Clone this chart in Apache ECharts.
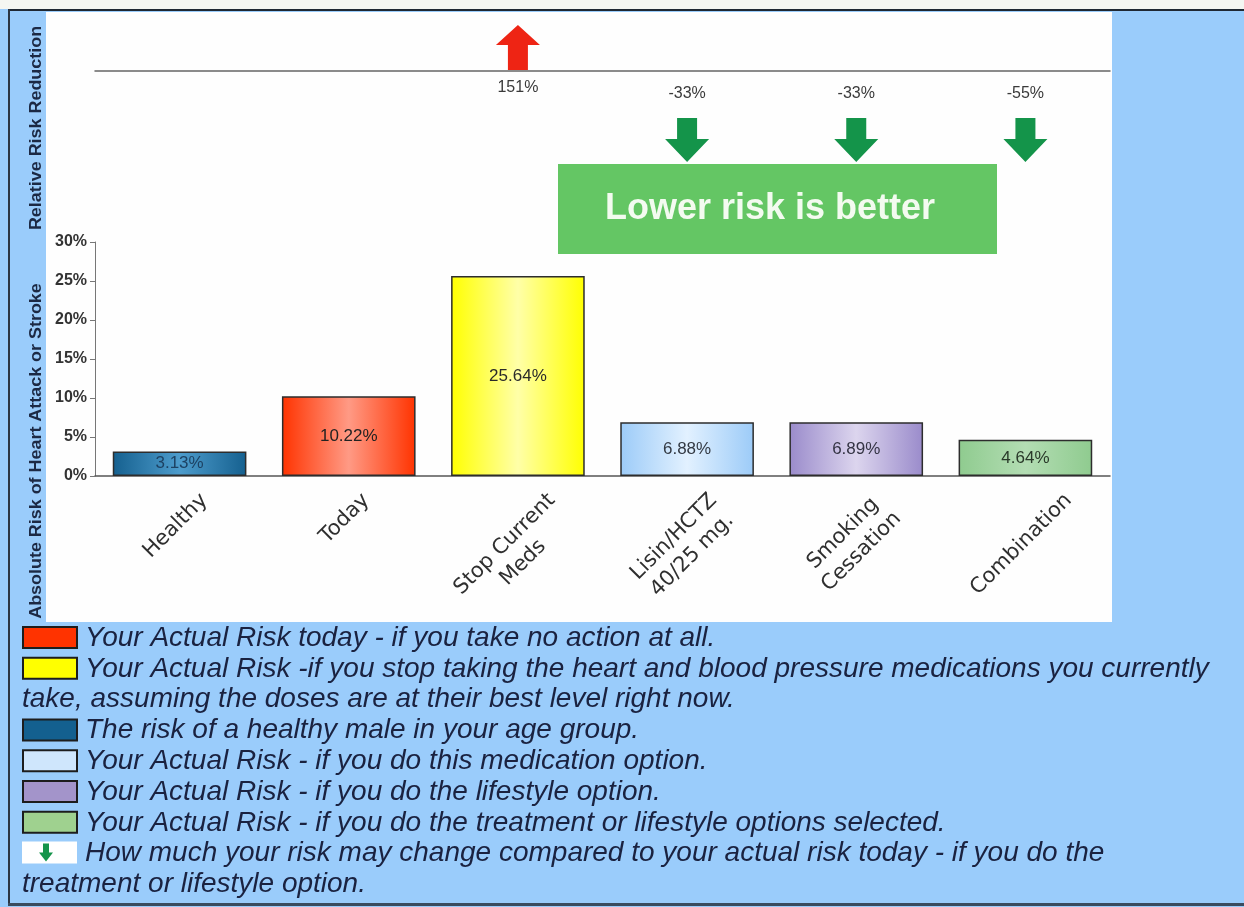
<!DOCTYPE html>
<html>
<head>
<meta charset="utf-8">
<script src="https://cdn.jsdelivr.net/npm/echarts@6/dist/echarts.min.js"></script>
<style>
  html, body { margin: 0; padding: 0; background: #ffffff; }
  #chart { width: 1244px; height: 907px; }
</style>
</head>
<body>
<div id="chart"></div>
<script>
// Categories along the bottom axis
const categories = ['Healthy', 'Today', 'Stop Current\nMeds', 'Lisin/HCTZ\n40/25 mg.', 'Smoking\nCessation', 'Combination'];
// Absolute 10-year risk of heart attack or stroke, in percent
const absoluteRisk = [3.13, 10.22, 25.64, 6.88, 6.89, 4.64];
// Relative change against today's risk, in percent (null = not shown)
const relativeChange = [null, null, 151, -33, -33, -55];
// Value axis range
const riskAxisMin = 0;
const riskAxisMax = 30;
const riskAxisStep = 5;

// Bar fills: edge colour and the lighter centre of the sheen
const barEdgeColors = ['#15608f', '#ff3300', '#ffff00', '#9ccbf8', '#9a8bcb', '#8fcb8f'];
const barMidColors  = ['#4d9ccc', '#ff9a85', '#ffffa8', '#e2f1ff', '#dcd5ee', '#b3ddb3'];
const barLabelColors = ['#1d4263', '#222222', '#2a2a2a', '#333a44', '#343444', '#2a3a2a'];

// Key beneath the chart
const legendColors = ['#ff3300', '#ffff00', null, '#13608f', '#cfe6fc', '#a394ca', '#9fd18f', 'arrow', null];
const legendTexts = [
  'Your Actual Risk today - if you take no action at all.',
  'Your Actual Risk -if you stop taking the heart and blood pressure medications you currently',
  'take, assuming the doses are at their best level right now.',
  'The risk of a healthy male in your age group.',
  'Your Actual Risk - if you do this medication option.',
  'Your Actual Risk - if you do the lifestyle option.',
  'Your Actual Risk - if you do the treatment or lifestyle options selected.',
  'How much your risk may change compared to your actual risk today - if you do the',
  'treatment or lifestyle option.'
];

const UP_COLOR = '#ee2414';
const DOWN_COLOR = '#14944a';
const X_LABEL_FONT = '21px "DejaVu Sans"';
const X_LABEL_LINE = 26;

const chart = echarts.init(document.getElementById('chart'), null, { renderer: 'canvas' });

function sheen(i) {
  return new echarts.graphic.LinearGradient(0, 0, 1, 0, [
    { offset: 0, color: barEdgeColors[i] },
    { offset: 0.5, color: barMidColors[i] },
    { offset: 1, color: barEdgeColors[i] }
  ]);
}

function arrowPoints(cx, top, bottom, pointsUp, headLen, headHalf, shaftHalf) {
  if (pointsUp) {
    const hb = top + headLen;
    return [[cx, top], [cx + headHalf, hb], [cx + shaftHalf, hb], [cx + shaftHalf, bottom],
            [cx - shaftHalf, bottom], [cx - shaftHalf, hb], [cx - headHalf, hb]];
  }
  const hb = bottom - headLen;
  return [[cx - shaftHalf, top], [cx + shaftHalf, top], [cx + shaftHalf, hb], [cx + headHalf, hb],
          [cx, bottom], [cx - headHalf, hb], [cx - shaftHalf, hb]];
}

function sideTitle(text, cx, cy) {
  return {
    type: 'text', x: cx, y: cy, rotation: Math.PI / 2, scaleX: 1.12, z: 5,
    style: { text: text, x: 0, y: 0, font: 'bold 16px "Liberation Sans"',
             fill: '#1c2944', align: 'center', verticalAlign: 'middle', textAlign: 'center', textVerticalAlign: 'middle' }
  };
}

// Page furniture: frame, white plotting panel, side titles, key
const frame = [
  { type: 'rect', shape: { x: 0, y: 0, width: 1244, height: 9 }, style: { fill: '#f4f6f2' }, z: -20 },
  { type: 'rect', shape: { x: 46, y: 12, width: 1066, height: 610 }, style: { fill: '#fefefe' }, z: -10 },
  { type: 'rect', shape: { x: 8, y: 9, width: 1236, height: 2 }, style: { fill: '#1f2833' }, z: 5 },
  { type: 'rect', shape: { x: 8, y: 9, width: 2, height: 897 }, style: { fill: '#2b3542' }, z: 5 },
  { type: 'rect', shape: { x: 8, y: 903, width: 1236, height: 3 }, style: { fill: '#3a4b5e' }, z: 5 },
  sideTitle('Relative Risk Reduction', 37, 128),
  sideTitle('Absolute Risk of Heart Attack or Stroke', 37, 451),
  // Call-out box
  { type: 'rect', shape: { x: 558, y: 164, width: 439, height: 90 }, style: { fill: '#64c664' }, z: 3 },
  {
    type: 'text', x: 770, y: 209, z: 4,
    style: { text: 'Lower risk is better', x: 0, y: 0, font: 'bold 36px "Liberation Sans"',
             fill: '#f3fbf0', align: 'center', verticalAlign: 'middle', textAlign: 'center', textVerticalAlign: 'middle' }
  }
];

const KEY_TOP = 637, KEY_STEP = 30.8;
legendTexts.forEach((t, i) => {
  const cy = KEY_TOP + i * KEY_STEP;
  const c = legendColors[i];
  const hasSwatch = c !== null;
  if (c === 'arrow') {
    frame.push({ type: 'rect', shape: { x: 22, y: cy - 11, width: 55, height: 22 }, style: { fill: '#ffffff' }, z: 5 });
    frame.push({ type: 'polygon', shape: { points: arrowPoints(46, cy - 9, cy + 9, false, 9, 7, 3) }, style: { fill: DOWN_COLOR }, z: 6 });
  } else if (hasSwatch) {
    frame.push({ type: 'rect', shape: { x: 23, y: cy - 10, width: 54, height: 21 }, style: { fill: c, stroke: '#1d1d1d', lineWidth: 2 }, z: 5 });
  }
  frame.push({
    type: 'text', x: hasSwatch ? 85 : 22, y: cy + 1, z: 5,
    style: { text: t, x: 0, y: 0, font: 'italic 28px "Liberation Sans"', fill: '#1a2240',
             align: 'left', verticalAlign: 'middle', textAlign: 'left', textVerticalAlign: 'middle' }
  });
});

const option = {
  backgroundColor: '#9accfb',
  animation: false,
  grid: [
    { left: 95, top: 242, width: 1015, height: 234 },
    { left: 95, top: 20, width: 1015, height: 51 }
  ],
  xAxis: [
    {
      type: 'category', gridIndex: 0, data: categories,
      axisLine: { lineStyle: { color: '#555555', width: 1.5 } },
      axisTick: { alignWithLabel: true, length: 4, lineStyle: { color: '#555555' } },
      axisLabel: { show: false }
    },
    {
      type: 'category', gridIndex: 1, data: categories, position: 'bottom',
      axisLine: { lineStyle: { color: '#666666', width: 1.5 } },
      axisTick: { show: false }, axisLabel: { show: false }
    }
  ],
  yAxis: [
    {
      type: 'value', gridIndex: 0, min: riskAxisMin, max: riskAxisMax, interval: riskAxisStep,
      axisLine: { show: true, lineStyle: { color: '#777777' } },
      axisTick: { show: true, length: 5, lineStyle: { color: '#777777' } },
      splitLine: { show: false },
      axisLabel: { formatter: '{value}%', margin: 8, color: '#333333',
                   fontFamily: 'Liberation Sans', fontWeight: 'bold', fontSize: 16 }
    },
    { type: 'value', gridIndex: 1, min: 0, max: 1, show: false }
  ],
  series: [
    {
      type: 'bar', xAxisIndex: 0, yAxisIndex: 0, barWidth: '79%',
      data: absoluteRisk.map((v, i) => ({
        value: v,
        itemStyle: { color: sheen(i), borderColor: '#2d2d2d', borderWidth: 1.5 },
        label: { color: barLabelColors[i] }
      })),
      label: {
        show: true, position: 'inside',
        formatter: p => p.value.toFixed(2) + '%',
        fontFamily: 'Liberation Sans', fontSize: 17
      }
    },
    {
      type: 'custom', xAxisIndex: 1, yAxisIndex: 1,
      data: relativeChange.map((v, i) => (v === null ? null : [i, 0, v])).filter(d => d),
      renderItem(params, api) {
        const base = api.coord([api.value(0), 0]);
        const x = base[0], y = base[1];
        const v = api.value(2);
        const up = v > 0;
        const pts = up
          ? arrowPoints(x, y - 46, y - 1, true, 20, 22, 10)
          : arrowPoints(x, y + 47, y + 91, false, 23, 22, 10);
        return {
          type: 'group',
          children: [
            { type: 'polygon', shape: { points: pts }, style: { fill: up ? UP_COLOR : DOWN_COLOR } },
            {
              type: 'text',
              style: { text: v + '%', x: x, y: up ? y + 17 : y + 23, font: '16px "Liberation Sans"',
                       fill: '#3a3a3a', align: 'center', verticalAlign: 'middle',
                       textAlign: 'center', textVerticalAlign: 'middle' }
            }
          ]
        };
      }
    }
  ],
  graphic: { elements: frame }
};

chart.setOption(option);

// Slanted category labels: each rotated block is centred under its tick
const measureCtx = document.createElement('canvas').getContext('2d');
measureCtx.font = X_LABEL_FONT;
const LABEL_TOP = 488;
const slanted = categories.map((name, i) => {
  const tickX = chart.convertToPixel({ xAxisIndex: 0 }, i);
  const lines = name.split('\n');
  const w = Math.max(...lines.map(l => measureCtx.measureText(l).width));
  const h = lines.length * X_LABEL_LINE;
  const half = (w + h) / (2 * Math.SQRT2);
  return {
    type: 'text', x: tickX - 4, y: LABEL_TOP + half, rotation: Math.PI / 4, z: 5,
    style: { text: name, x: 0, y: 0, font: X_LABEL_FONT, lineHeight: X_LABEL_LINE, fill: '#2f2f2f',
             align: 'center', verticalAlign: 'middle', textAlign: 'center', textVerticalAlign: 'middle' }
  };
});
chart.setOption({ graphic: { elements: frame.concat(slanted) } });
</script>
</body>
</html>
